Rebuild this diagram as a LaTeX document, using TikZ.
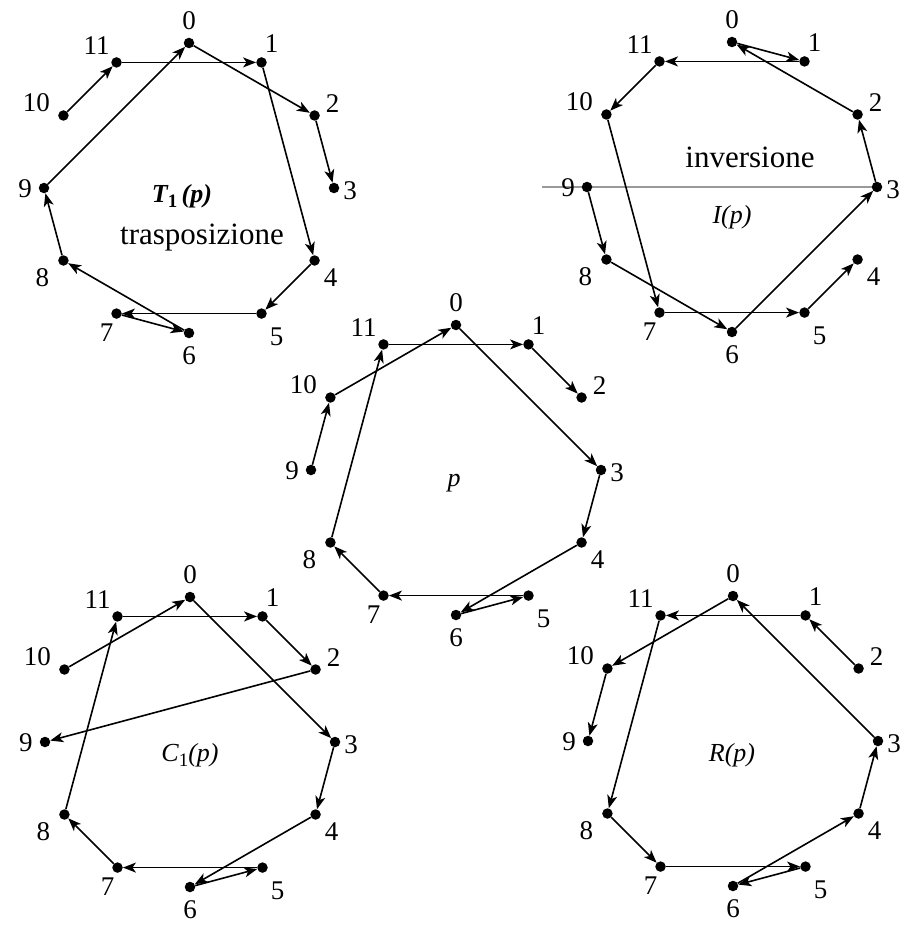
\documentclass[tikz,border=0pt]{standalone}
\usepackage{fontspec}
\setmainfont{Liberation Serif}
\usetikzlibrary{arrows.meta,backgrounds}
\tikzset{
  dot/.style={circle,fill=black,inner sep=0pt,minimum size=10.5pt},
  numlab/.style={font=\fontsize{27}{27}\selectfont, inner sep=0pt},
  mathlab/.style={font=\fontsize{26}{26}\selectfont\itshape, inner sep=0pt},
  word/.style={font=\fontsize{31}{31}\selectfont, inner sep=0pt},
  arr/.style={line width=1.6pt,-{Stealth[length=13pt,width=10pt,inset=3.5pt]}},
  thinarr/.style={line width=1pt,-{Stealth[length=13pt,width=10pt,inset=3.5pt]}},
  axisline/.style={line width=1.5pt,draw=black!40},
}
\newcommand\mkdiag[3]{%
  \foreach \i/\dx/\dy in {0/0/-22,1/10/-19,2/18/-12,3/16/3,4/16/17,5/15/23,6/0/23,7/-10/19,8/-21/17,9/-19/1,10/-27/-13,11/-20/-17}{
    \node[dot] (#1\i) at ({#2+145*sin(30*\i)},{#3-145*cos(30*\i)}) {};
    \node[numlab] (#1l\i) at ([shift={(\dx,\dy)}]#1\i) {\i};
  }%
}
\newcommand\mkchain[2]{%
  \foreach \a/\b in {#2}{\draw[arr] (#1\a) -- (#1\b);}%
}
\newcommand\subone{\raisebox{-5pt}{\upshape\fontsize{19}{19}\selectfont 1}}
\begin{document}
\begin{tikzpicture}[x=1pt,y=-1pt]
\useasboundingbox (0,0) rectangle (903,928);
% T1(p)
\mkdiag{T}{189}{188}
\mkchain{T}{10/11,11/1,1/4,4/5,5/7,7/6,6/8,8/9,9/0,0/2,2/3}
\node[mathlab,font=\fontsize{26}{26}\selectfont\bfseries\itshape] (tT) at (182,196) {T\subone\,(p)};
\node[word] (wT) at (202,238) {trasposizione};
% I(p)
\mkdiag{I}{732}{187}
\coordinate (axisL) at (542,187);
\begin{scope}[on background layer]
\draw[axisline] (axisL) -- (I3.center);
\end{scope}
\mkchain{I}{9/8,8/6,6/3,3/2,2/0,0/1,1/11,11/10,10/7,7/5,5/4}
\node[mathlab] (tI) at (732,217) {I(p)};
\node[word] (wI) at (750,157) {inversione};
% p
\mkdiag{P}{456}{470}
\mkchain{P}{9/10,10/0,0/3,3/4,4/6,6/5,5/7,7/8,8/11}
\draw[thinarr] (P11) -- (P1);
\draw[arr] (P1) -- (P2);
\node[mathlab] (tP) at (454,483) {p};
% C1(p)
\mkdiag{C}{190}{742}
\mkchain{C}{10/0,0/3,3/4,4/6,6/5,5/7,7/8,8/11,11/1,1/2,2/9}
\node[mathlab] (tC) at (190,755) {C\subone(p)};
% R(p)
\mkdiag{R}{733}{741}
\mkchain{R}{2/1,1/11,11/8,8/7,7/5,5/6,6/4,4/3,3/0,0/10,10/9}
\node[mathlab] (tR) at (732,755) {R(p)};
\end{tikzpicture}
\end{document}
